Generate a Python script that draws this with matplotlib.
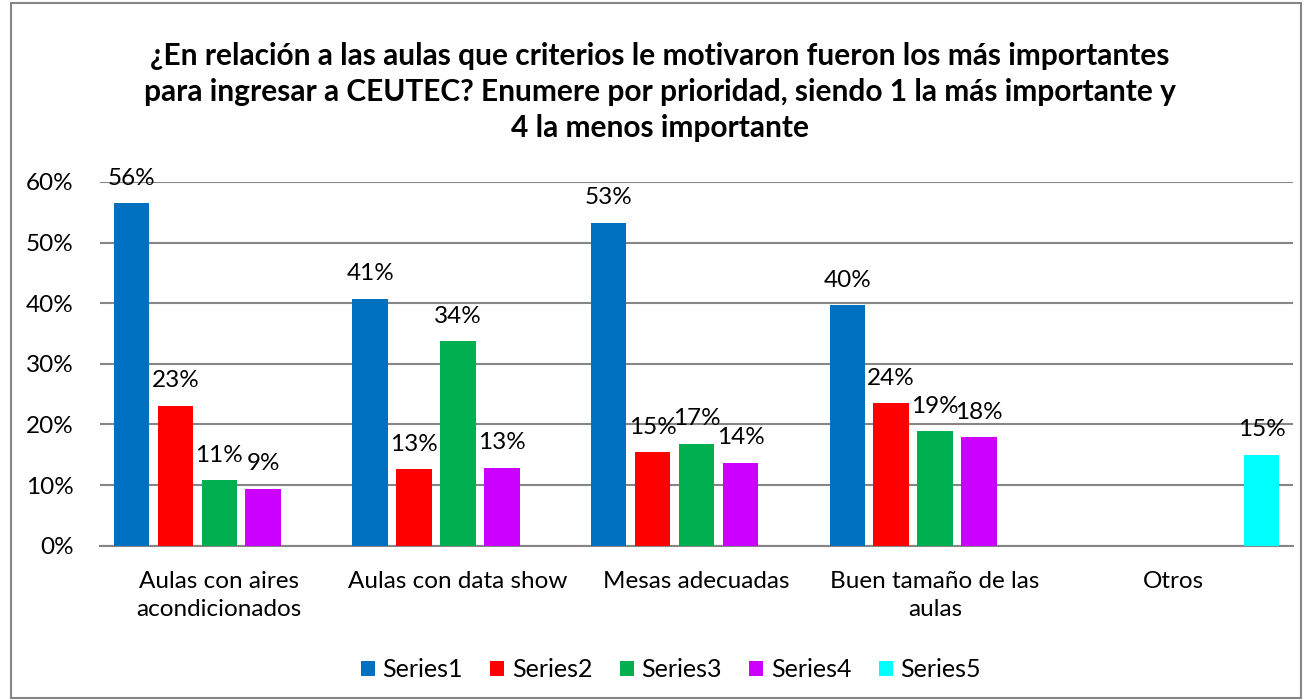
import numpy as np
import matplotlib.pyplot as plt
from matplotlib.patches import Rectangle

plt.rcParams['font.family'] = ['Lato', 'DejaVu Sans']

categories = ["Aulas con aires\nacondicionados", "Aulas con data show",
              "Mesas adecuadas", "Buen tamaño de las\naulas", "Otros"]
series_names = ["Series1", "Series2", "Series3", "Series4", "Series5"]
series1 = [0.565, 0.407, 0.533, 0.397, None]
series2 = [0.231, 0.126, 0.154, 0.235, None]
series3 = [0.108, 0.337, 0.168, 0.189, None]
series4 = [0.094, 0.129, 0.137, 0.179, None]
series5 = [None, None, None, None, 0.150]
colors = ['#0070C0', '#FF0000', '#00B050', '#CC00FF', '#00FFFF']

title = ("¿En relación a las aulas que criterios le motivaron fueron los más importantes\n"
         "para ingresar a CEUTEC? Enumere por prioridad, siendo 1 la más importante y\n"
         "4 la menos importante")

fig = plt.figure(figsize=(13.09, 7.0), dpi=100)
ax = fig.add_axes([0.0764, 0.2204, 0.9114, 0.5196])

x = np.arange(len(categories))
step = 0.184
width = 0.149
all_series = [series1, series2, series3, series4, series5]
for i, (vals, name, c) in enumerate(zip(all_series, series_names, colors)):
    xs = x + (i - 2) * step
    heights = [v if v is not None else 0 for v in vals]
    bars = ax.bar(xs, heights, width=width, color=c, label=name, zorder=3)
    for b, v in zip(bars, vals):
        if v is None:
            continue
        ax.text(b.get_x() + b.get_width() / 2, v + 0.024, "{:.0%}".format(v),
                ha='center', va='bottom', fontsize=17.5, zorder=4)

ax.set_xlim(-0.5, len(categories) - 0.5)
ax.set_ylim(0, 0.6)
ax.set_yticks(np.arange(0, 0.61, 0.1))
ax.set_yticklabels(["{:.0%}".format(t) for t in np.arange(0, 0.61, 0.1)], fontsize=17.5)
ax.set_xticks(x)
ax.set_xticklabels(categories, fontsize=17.5, linespacing=1.45)
ax.tick_params(axis='y', length=0, pad=19)
ax.tick_params(axis='x', length=0, pad=18)
ax.yaxis.grid(True, color='#868686', linewidth=1.5, zorder=0)
for s in ['left', 'right', 'top']:
    ax.spines[s].set_visible(False)
ax.spines['bottom'].set_color('#868686')
ax.spines['bottom'].set_linewidth(1.5)

fig.text(0.504, 0.94, title, ha='center', va='top', fontsize=21.5,
         fontweight='bold', linespacing=1.34)

ax.legend(loc='center', bbox_to_anchor=(671 / 1309, 0.043), bbox_transform=fig.transFigure,
          ncol=5, frameon=False, fontsize=18, handlelength=0.56, handleheight=0.56,
          handletextpad=0.3, columnspacing=1.1)

fig.patches.append(Rectangle((11 / 1309, 2 / 700), 1290 / 1309, 695 / 700,
                             transform=fig.transFigure, fill=False,
                             edgecolor='#868686', linewidth=1.5))

fig.savefig('out.png', dpi=100)
